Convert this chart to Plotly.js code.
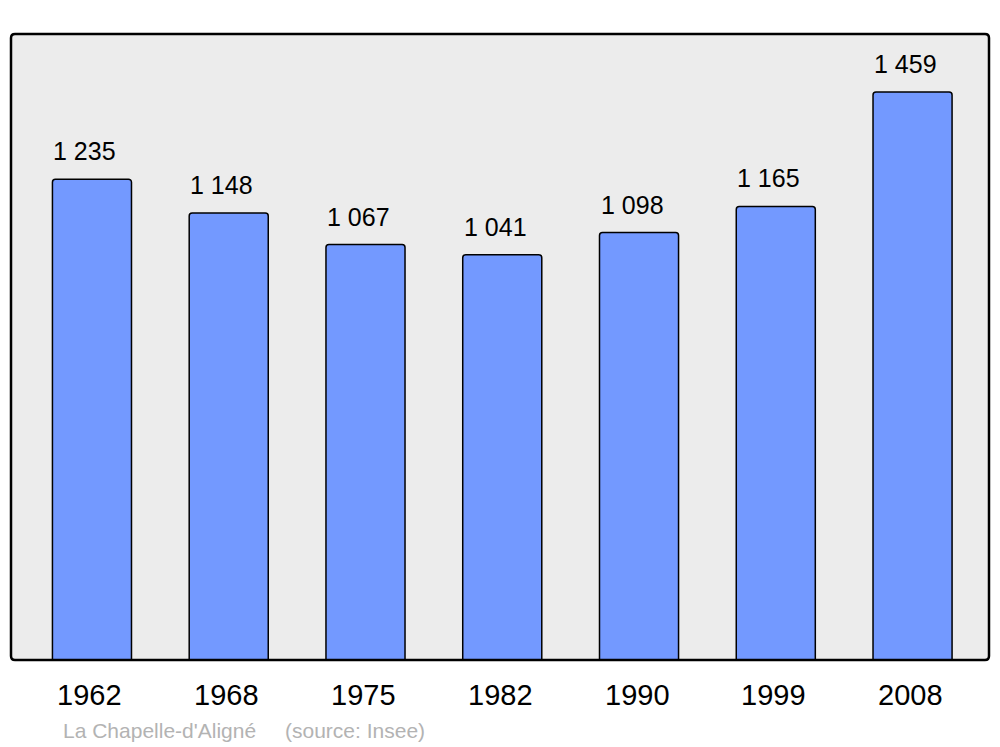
<!DOCTYPE html>
<html>
<head>
<meta charset="utf-8">
<script src="https://cdn.plot.ly/plotly-3.0.1.min.js"></script>
<style>html,body{margin:0;padding:0;background:#fff;}#chart{width:1000px;height:747px;}</style>
</head>
<body>
<div id="chart"></div>
<script>
const years = ["1962", "1968", "1975", "1982", "1990", "1999", "2008"];
const population = [1235, 1148, 1067, 1041, 1098, 1165, 1459];
const commune = "La Chapelle-d'Aligné";
const source = "(source: Insee)";

const pos = years.map((_, i) => i);
const xr = [-0.592, 6.559];
const yr = [0, 1608];
const fmt = v => String(v).replace(/\B(?=(\d{3})+(?!\d))/g, " ");

// rounded frame in paper coords
const rx = 4 / 978, ry = 4 / 626;
const framePath =
  `M ${rx} 0 L ${1 - rx} 0 Q 1 0 1 ${ry} ` +
  `L 1 ${1 - ry} Q 1 1 ${1 - rx} 1 ` +
  `L ${rx} 1 Q 0 1 0 ${1 - ry} ` +
  `L 0 ${ry} Q 0 0 ${rx} 0 Z`;

const font = "Liberation Sans, Arial, sans-serif";

const trace = {
  type: "bar",
  x: pos,
  y: population,
  width: 0.578,
  marker: { color: "#7399ff", line: { color: "#000", width: 1.5 }, cornerradius: 3 },
  hoverinfo: "none"
};

const annotations = population.map((v, i) => ({
  x: pos[i], y: v, xref: "x", yref: "y",
  text: fmt(v), showarrow: false,
  xanchor: "center", yanchor: "middle",
  xshift: -7, yshift: 28,
  font: { family: font, size: 25, color: "#000" }
}));
years.forEach((yv, i) => annotations.push({
  x: pos[i], y: 0, xref: "x", yref: "y",
  text: yv, showarrow: false,
  xanchor: "center", yanchor: "middle",
  xshift: -2, yshift: -35,
  font: { family: font, size: 29, color: "#000" }
}));
annotations.push({
  x: (61 - 11) / 978, xref: "paper", y: -0.112, yref: "paper", showarrow: false,
  text: commune, xanchor: "left", yanchor: "middle",
  font: { family: font, size: 21, color: "#b3b3b3" }
});
annotations.push({
  x: (283 - 11) / 978, xref: "paper", y: -0.112, yref: "paper", showarrow: false,
  text: source, xanchor: "left", yanchor: "middle",
  font: { family: font, size: 21, color: "#b3b3b3" }
});

const layout = {
  width: 1000, height: 747,
  margin: { l: 11, r: 11, t: 34, b: 87, pad: 0 },
  paper_bgcolor: "#ffffff",
  plot_bgcolor: "#ececec",
  showlegend: false,
  xaxis: {
    range: xr, showticklabels: false,
    showgrid: false, zeroline: false, showline: false,
    ticks: "", fixedrange: true
  },
  yaxis: {
    range: yr, showgrid: false, zeroline: false, showline: false,
    showticklabels: false, ticks: "", fixedrange: true
  },
  shapes: [{
    type: "path", xref: "paper", yref: "paper", path: framePath,
    line: { color: "#000", width: 2.5 }, layer: "above"
  }],
  annotations: annotations
};

Plotly.newPlot("chart", [trace], layout, { displayModeBar: false, staticPlot: true });
</script>
</body>
</html>
